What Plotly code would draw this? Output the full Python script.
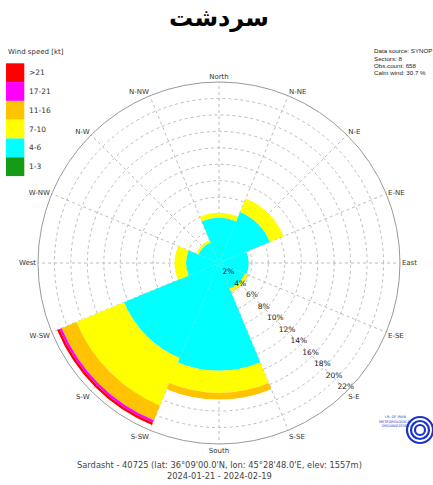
import plotly.graph_objects as go

# ---------------- data ----------------
directions = ["N", "NE", "E", "SE", "S", "SW", "W", "NW"]
speed_classes = ["1-3", "4-6", "7-10", "11-16", "17-21", ">21"]
class_colors = ["#169B16", "#00FFFF", "#FFFF00", "#FFC300", "#FF00FF", "#FF0000"]

freq_1_3 = [0, 0, 0, 0, 0, 0, 0, 0]
freq_4_6 = [5.5, 6.7, 3.6, 3.4, 13.1, 12.5, 4.0, 2.7]
freq_7_10 = [0.6, 1.8, 0, 0.35, 2.7, 6.25, 1.4, 0.3]
freq_11_16 = [0, 0, 0, 0.1, 0.8, 1.95, 0, 0]
freq_17_21 = [0, 0, 0, 0, 0, 0.3, 0, 0]
freq_21p = [0, 0, 0, 0, 0, 0.3, 0, 0]

compass_labels = ["North", "N-NE", "N-E", "E-NE", "East", "E-SE", "S-E", "S-SE",
                  "South", "S-SW", "S-W", "W-SW", "West", "W-NW", "N-W", "N-NW"]
radial_ticks = [2, 4, 6, 8, 10, 12, 14, 16, 18, 20, 22]

title_text = "سردشت"
info_lines = ["Data source: SYNOP", "Sectors: 8", "Obs.count: 658", "Calm wind: 30.7 %"]
footer_lines = ["Sardasht - 40725 (lat: 36°09'00.0'N, lon: 45°28'48.0'E, elev: 1557m)",
                "2024-01-21 - 2024-02-19"]

# ---------------- figure ----------------
W, H = 433, 485
sector_width = 360 / len(directions)
theta = [i * sector_width for i in range(len(directions))]

fig = go.Figure()
series = [freq_1_3, freq_4_6, freq_7_10, freq_11_16, freq_17_21, freq_21p]
for name, col, vals in zip(speed_classes, class_colors, series):
    fig.add_trace(go.Barpolar(
        r=vals, theta=theta, width=[sector_width] * len(theta),
        name=name, marker=dict(color=col, line=dict(width=0)),
        showlegend=False, hoverinfo="skip"))

# radial percentage labels drawn through the polar scale
fig.add_trace(go.Scatterpolar(
    r=[v - 0.4 for v in radial_ticks], theta=[134.5] * len(radial_ticks),
    mode="text", text=[f"{v}%" for v in radial_ticks],
    textposition="middle center",
    textfont=dict(size=7.5, color="#222222", family="DejaVu Sans"),
    showlegend=False, hoverinfo="skip"))


def px(x):
    return x / W


def py(y):
    return 1 - y / H


cx, cy, R = 219, 263, 181
fig.update_layout(
    width=W, height=H,
    margin=dict(l=0, r=0, t=0, b=0),
    paper_bgcolor="white", plot_bgcolor="white",
    font=dict(family="DejaVu Sans", color="#333333"),
    polar=dict(
        domain=dict(x=[px(cx - R), px(cx + R)], y=[py(cy + R), py(cy - R)]),
        bgcolor="white",
        barmode="stack",
        hole=0,
        angularaxis=dict(
            direction="clockwise", rotation=90, thetaunit="degrees",
            tickmode="array",
            tickvals=[i * 22.5 for i in range(16)],
            ticktext=compass_labels,
            tickfont=dict(size=7, color="#333333"),
            ticks="", showline=True, linecolor="#9a9a9a", linewidth=1,
            showgrid=True, gridcolor="#bdbdbd", gridwidth=1, griddash="3px,3px",
        ),
        radialaxis=dict(
            range=[0, 22], tickmode="array", tickvals=radial_ticks,
            showticklabels=False,
            angle=-45,
            showline=False, ticks="",
            showgrid=True, gridcolor="#bdbdbd", gridwidth=1, griddash="3px,3px",
        ),
    ),
)

annotations = []
shapes = []
# title
annotations.append(dict(x=px(219), y=py(18), xref="paper", yref="paper",
                        text=f"<b>{title_text}</b>", showarrow=False,
                        font=dict(size=24, color="black", family="DejaVu Sans"),
                        xanchor="center", yanchor="middle"))
# legend
annotations.append(dict(x=px(6), y=py(52), xref="paper", yref="paper",
                        text="Wind speed [kt]", showarrow=False,
                        font=dict(size=7, color="#333333"),
                        xanchor="left", yanchor="middle"))
box_top, box_h, box_x0, box_x1 = 63.3, 18.8, 6, 24.3
for i, (name, col) in enumerate(zip(reversed(speed_classes), reversed(class_colors))):
    y0 = box_top + i * box_h
    shapes.append(dict(type="rect", xref="paper", yref="paper",
                       x0=px(box_x0), x1=px(box_x1), y0=py(y0 + box_h), y1=py(y0),
                       fillcolor=col, line=dict(width=0)))
    annotations.append(dict(x=px(27), y=py(y0 + box_h / 2), xref="paper", yref="paper",
                            text=name, showarrow=False,
                            font=dict(size=7.5, color="#333333"),
                            xanchor="left", yanchor="middle"))
# info text
for i, line in enumerate(info_lines):
    annotations.append(dict(x=px(372), y=py(51 + i * 7.3), xref="paper", yref="paper",
                            text=line, showarrow=False,
                            font=dict(size=6.2, color="#222222", family="Liberation Sans"),
                            xanchor="left", yanchor="middle"))
# footer
for i, line in enumerate(footer_lines):
    annotations.append(dict(x=px(219), y=py(465 + i * 10.5), xref="paper", yref="paper",
                            text=line, showarrow=False,
                            font=dict(size=8.3, color="#444444"),
                            xanchor="center", yanchor="middle"))
# logo (approximation)
for rr in [13, 9, 5]:
    shapes.append(dict(type="circle", xref="paper", yref="paper",
                       x0=px(420 - rr), x1=px(420 + rr), y0=py(430 + rr), y1=py(430 - rr),
                       line=dict(color="#1a33cc", width=2.2)))
annotations.append(dict(x=px(395), y=py(421), xref="paper", yref="paper",
                        text="I.R. OF IRAN<br>METEOROLOGICAL<br>ORGANIZATION", showarrow=False,
                        font=dict(size=3.5, color="#1a33cc"),
                        xanchor="center", yanchor="middle"))

fig.update_layout(annotations=annotations, shapes=shapes)
fig.write_html("out.html", config={"displayModeBar": False},
               post_script="document.body.style.margin='0';document.body.style.overflow='hidden';")
